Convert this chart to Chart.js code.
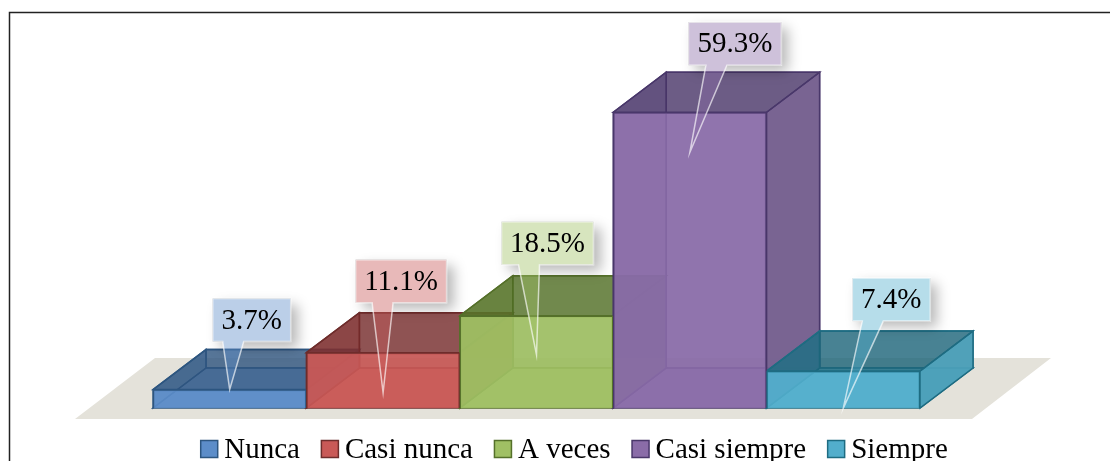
<!DOCTYPE html>
<html>
<head>
<meta charset="utf-8">
<title>Frecuencia</title>
<script src="https://cdn.jsdelivr.net/npm/chart.js@4"></script>
<style>
    body { margin: 0; background: #fff; }
    canvas { display: block; }
</style>
</head>
<body>
<canvas id="chart" width="1110" height="461"></canvas>
<script>
// data
const categories = ["Nunca", "Casi nunca", "A veces", "Casi siempre", "Siempre"];
const percentages = [3.7, 11.1, 18.5, 59.3, 7.4];

// colours per category
const frontColors = ["#5c8dc9", "#c95957", "#a0c064", "#8a6ca8", "#52aecc"];
const wallColors = ["#2f5480", "#742a2a", "#4f6c22", "#483568", "#1c6478"];
const sideColors = ["#4a76a8", "#a84a48", "#7c9a44", "#75608f", "#4b9fb8"];
const lineColors = ["#2d5680", "#6e2d2c", "#55702a", "#49376a", "#1e6c82"];

// callout placement, relative to the bar
const calloutShiftX = [22, 18, 11, 45, 48];
const calloutLift = [48, 50, 51, 47, 50];
const calloutWidth = [78, 91, 92, 93, 78];
const tipDrop = [0, 40, 39, 40, 37];

const FONT = '"Liberation Serif", "Times New Roman", serif';
const DEPTH_X = 53;
const DEPTH_Y = -40;

const poly = (ctx, pts) => {
    ctx.beginPath();
    pts.forEach((p, i) => (i ? ctx.lineTo(p[0], p[1]) : ctx.moveTo(p[0], p[1])));
    ctx.closePath();
};

const face = (ctx, pts, fill, alpha, line) => {
    poly(ctx, pts);
    ctx.globalAlpha = alpha;
    ctx.fillStyle = fill;
    ctx.fill();
    ctx.globalAlpha = 1;
    ctx.strokeStyle = line;
    ctx.lineWidth = 1.5;
    ctx.stroke();
};

// floor, then the faces of each box that sit behind the front
const boxPlugin = {
    id: "box3d",
    beforeDatasetsDraw(chart) {
        const { ctx, chartArea } = chart;
        const base = chart.scales.y.getPixelForValue(0);
        ctx.save();

        ctx.fillStyle = "#e4e2da";
        poly(ctx, [
            [chartArea.left - 78, base + 11],
            [chartArea.left + 2, base - 50],
            [chartArea.right + 131, base - 50],
            [chartArea.right + 52, base + 11]
        ]);
        ctx.fill();

        chart.getDatasetMeta(0).data.forEach((bar, i) => {
            const l = bar.x - bar.width / 2;
            const r = bar.x + bar.width / 2;
            const t = bar.y;
            const dx = DEPTH_X;
            const dy = DEPTH_Y;
            const line = lineColors[i];

            face(ctx, [[l + dx, t + dy], [r + dx, t + dy], [r + dx, base + dy], [l + dx, base + dy]], wallColors[i], 0.3, line);
            face(ctx, [[l, base], [l + dx, base + dy], [r + dx, base + dy], [r, base]], frontColors[i], 0.7, line);
            face(ctx, [[l, t], [l + dx, t + dy], [l + dx, base + dy], [l, base]], sideColors[i], 0.6, line);
            face(ctx, [[r, t], [r + dx, t + dy], [r + dx, base + dy], [r, base]], sideColors[i], 0.95, line);
            face(ctx, [[l, t], [l + dx, t + dy], [r + dx, t + dy], [r, t]], wallColors[i], 0.72, line);
        });
        ctx.restore();
    }
};

// value callouts, frame and legend
const annotationPlugin = {
    id: "annotations",
    afterDatasetsDraw(chart) {
        const { ctx } = chart;
        const H = 43;
        ctx.save();
        ctx.font = "29px " + FONT;

        chart.getDatasetMeta(0).data.forEach((bar, i) => {
            const label = percentages[i].toFixed(1) + "%";
            const w = calloutWidth[i];
            const cx = bar.x + calloutShiftX[i];
            const bottom = bar.y - calloutLift[i];
            const top = bottom - H;
            const shape = [
                [cx - w / 2, top], [cx + w / 2, top], [cx + w / 2, bottom],
                [cx - 8, bottom], [bar.x, bar.y + tipDrop[i]], [cx - 29, bottom], [cx - w / 2, bottom]
            ];

            // shadow only outside the callout
            ctx.save();
            ctx.beginPath();
            ctx.rect(0, 0, chart.width, chart.height);
            shape.forEach((p, k) => (k ? ctx.lineTo(p[0], p[1]) : ctx.moveTo(p[0], p[1])));
            ctx.closePath();
            ctx.clip("evenodd");
            ctx.shadowColor = "rgba(0,0,0,0.28)";
            ctx.shadowBlur = 12;
            ctx.shadowOffsetX = 7;
            ctx.shadowOffsetY = 6;
            ctx.fillStyle = "#000";
            ctx.fillRect(cx - w / 2, top, w, H);
            ctx.restore();

            poly(ctx, shape);
            ctx.globalAlpha = 0.42;
            ctx.fillStyle = frontColors[i];
            ctx.fill();
            ctx.globalAlpha = 1;
            ctx.strokeStyle = "rgba(255,255,255,0.65)";
            ctx.lineWidth = 1.5;
            ctx.stroke();

            ctx.fillStyle = "#000";
            ctx.textAlign = "center";
            ctx.textBaseline = "middle";
            ctx.fillText(label, cx, top + H / 2 + 1);
        });

        // frame
        ctx.strokeStyle = "#222";
        ctx.lineWidth = 1.5;
        ctx.beginPath();
        ctx.moveTo(9.5, 461);
        ctx.lineTo(9.5, 12.5);
        ctx.lineTo(1110, 12.5);
        ctx.stroke();

        // legend
        ctx.textAlign = "left";
        ctx.textBaseline = "alphabetic";
        const widths = categories.map((c) => ctx.measureText(c).width);
        const total = widths.reduce((a, b) => a + b + 24, 0) + 21 * (categories.length - 1);
        let x = (1148 - total) / 2;
        categories.forEach((c, i) => {
            ctx.fillStyle = frontColors[i];
            ctx.fillRect(x + 0.5, 440.5, 17, 17);
            ctx.strokeStyle = lineColors[i];
            ctx.lineWidth = 1.5;
            ctx.strokeRect(x + 0.5, 440.5, 17, 17);
            ctx.fillStyle = "#000";
            ctx.fillText(c, x + 24, 458);
            x += 24 + widths[i] + 21;
        });
        ctx.restore();
    }
};

document.addEventListener("DOMContentLoaded", () => {
    new Chart(document.getElementById("chart"), {
        type: "bar",
        data: {
            labels: categories,
            datasets: [{
                data: percentages,
                backgroundColor: frontColors.map((c) => c + "e6"),
                borderColor: lineColors,
                borderWidth: 1.5,
                barPercentage: 1,
                categoryPercentage: 1
            }]
        },
        options: {
            responsive: false,
            animation: false,
            layout: { padding: { left: 153, right: 190, top: 9, bottom: 53 } },
            scales: {
                x: { display: false },
                y: { display: false, min: 0, max: 80 }
            },
            plugins: { legend: { display: false }, tooltip: { enabled: false } }
        },
        plugins: [boxPlugin, annotationPlugin]
    });
});
</script>
</body>
</html>
